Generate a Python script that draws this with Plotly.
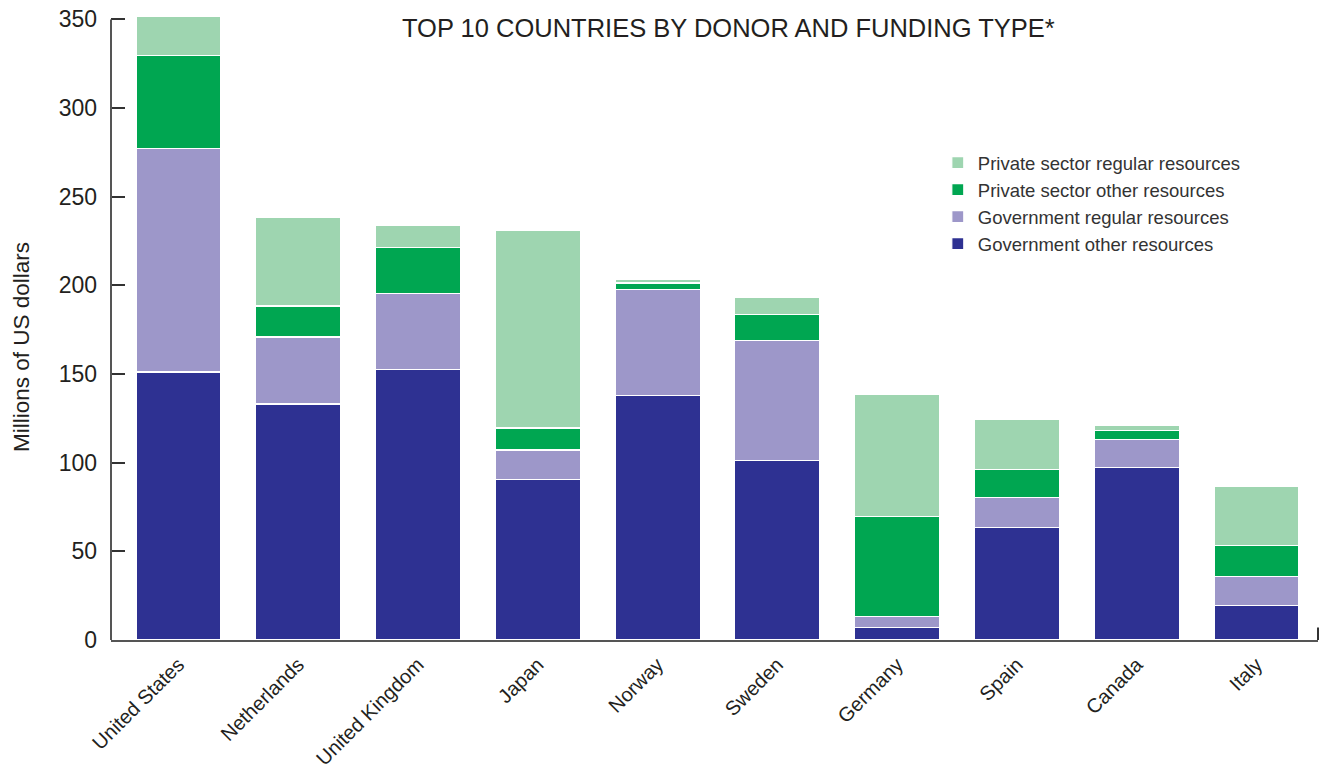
import plotly.graph_objects as go

countries = ["United States", "Netherlands", "United Kingdom", "Japan", "Norway",
             "Sweden", "Germany", "Spain", "Canada", "Italy"]

gov_other = [151.2, 133.1, 152.7, 90.7, 137.7, 101.4, 6.9, 63.6, 97.2, 19.4]
gov_regular = [125.8, 37.8, 42.6, 16.5, 59.9, 67.3, 6.2, 16.7, 15.7, 16.2]
private_other = [52.7, 17.5, 26.0, 12.4, 3.8, 15.0, 56.5, 15.8, 5.2, 17.9]
private_regular = [21.8, 49.8, 12.7, 111.6, 2.2, 9.8, 69.2, 28.4, 2.8, 33.0]

series = [
    ("Government other resources", gov_other, "#2E3192"),
    ("Government regular resources", gov_regular, "#9D97C9"),
    ("Private sector other resources", private_other, "#00A651"),
    ("Private sector regular resources", private_regular, "#9ED5B0"),
]

FONT = "Liberation Sans"
TXT = "#231F20"

T, B = 15, 134
PH = 774 - T - B


def py(p):
    return (774 - B - p) / PH


fig = go.Figure()
for name, vals, col in series:
    fig.add_trace(go.Bar(
        x=countries, y=vals, name=name,
        marker=dict(color=col, line=dict(color="white", width=1.2)),
    ))

fig.update_layout(
    barmode="stack",
    bargap=0.29,
    width=1320, height=774,
    margin=dict(l=111, r=2, t=T, b=B, autoexpand=False),
    paper_bgcolor="white", plot_bgcolor="white",
    font=dict(family=FONT, color=TXT),
    showlegend=True,
    legend=dict(
        traceorder="reversed",
        x=0.685, y=py(144), xanchor="left", yanchor="top",
        font=dict(size=18.5, color="#333333", family=FONT),
        bgcolor="rgba(0,0,0,0)",
        tracegroupgap=0,
    ),
    annotations=[
        dict(text="TOP 10 COUNTRIES BY DONOR AND FUNDING TYPE*",
             xref="paper", yref="paper", x=(729 - 111) / 1207, y=py(28),
             xanchor="center", yanchor="middle", showarrow=False,
             font=dict(size=25.5, color=TXT, family=FONT)),
        dict(text="Millions of US dollars",
             xref="paper", yref="paper", x=(21 - 111) / 1207, y=py(347),
             xanchor="center", yanchor="middle", textangle=-90, showarrow=False,
             font=dict(size=22.5, color=TXT, family=FONT)),
    ],
    shapes=[
        dict(type="line", xref="paper", yref="y", x0=0, x1=0, y0=0, y1=350,
             line=dict(color="#555555", width=2)),
        dict(type="line", xref="paper", yref="y", x0=1, x1=1, y0=0, y1=7,
             line=dict(color="#333333", width=2)),
    ],
)

fig.update_xaxes(
    type="category",
    range=[-0.563, 9.513],
    tickangle=-45,
    tickfont=dict(size=20, color=TXT, family=FONT),
    showline=True, linecolor="#555555", linewidth=2,
    ticks="", showgrid=False, zeroline=False,
    ticklabelstandoff=3,
    automargin=False,
)
fig.update_yaxes(
    range=[0, 352.5],
    tickvals=[0, 50, 100, 150, 200, 250, 300, 350],
    tickfont=dict(size=23, color=TXT, family=FONT),
    showline=False,
    ticks="inside", ticklen=14, tickcolor="#333333", tickwidth=2,
    ticklabelstandoff=13,
    showgrid=False, zeroline=False,
    automargin=False,
)

fig.write_html("out.html")
